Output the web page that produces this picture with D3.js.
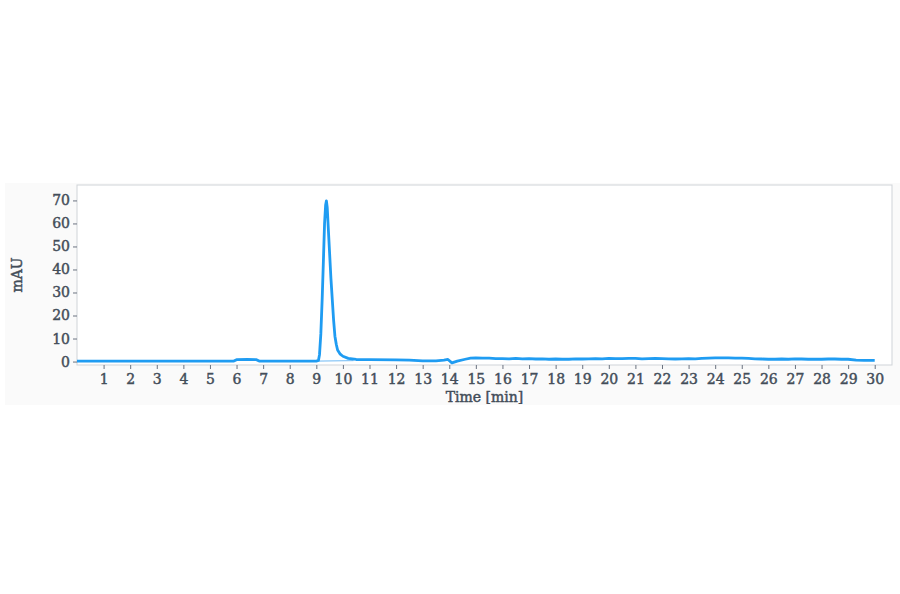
<!DOCTYPE html>
<html>
<head>
<meta charset="utf-8">
<script src="https://cdn.jsdelivr.net/npm/d3@7"></script>
<style>
  body { margin: 0; background: #fff; }
  svg text { font-family: "DejaVu Serif", "Liberation Serif", serif; fill: #434d59; stroke: #434d59; stroke-width: 0.45px; }
</style>
</head>
<body>
<svg id="chart" width="900" height="594"></svg>
<script>
// chromatogram trace, time in min / absorbance in mAU
const times = [0, 1, 2, 3, 4, 5, 5.9, 6.0, 6.4, 6.75, 6.85, 7.5, 8.5, 9.0, 9.08, 9.12, 9.17, 9.22, 9.27, 9.31, 9.35, 9.38, 9.41, 9.45, 9.5, 9.55, 9.6, 9.65, 9.7, 9.75, 9.8, 9.9, 10.0, 10.2, 10.5, 11, 12, 12.5, 13, 13.5, 13.8, 13.95, 14.1, 14.3, 14.6, 14.8,
  15, 15.25, 15.5, 15.75, 16, 16.25, 16.5, 16.75, 17, 17.25, 17.5, 17.75, 18, 18.25, 18.5, 18.75, 19, 19.25, 19.5, 19.75, 20, 20.25, 20.5, 20.75, 21, 21.25, 21.5, 21.75, 22, 22.25, 22.5, 22.75, 23, 23.25, 23.5, 23.75, 24, 24.25, 24.5, 24.75, 25, 25.25, 25.5, 25.75, 26, 26.25, 26.5, 26.75, 27, 27.25, 27.5, 27.75, 28, 28.25, 28.5, 28.75, 29, 29.3, 29.6, 30]
const mau = [0.2, 0.2, 0.2, 0.2, 0.2, 0.2, 0.2, 0.8, 0.9, 0.8, 0.2, 0.2, 0.2, 0.2, 0.5, 3, 12, 27, 45, 60, 68, 69.8, 67, 58, 47, 36, 27, 18, 11, 7.5, 5, 3.2, 2.3, 1.4, 0.9, 0.8, 0.7, 0.6, 0.3, 0.3, 0.6, 0.9, -0.6, 0.2, 1.0, 1.5,
  1.6, 1.5, 1.5, 1.3, 1.3, 1.2, 1.4, 1.2, 1.3, 1.1, 1.2, 1.0, 1.1, 1.0, 1.0, 1.2, 1.1, 1.2, 1.3, 1.2, 1.4, 1.3, 1.3, 1.4, 1.4, 1.2, 1.3, 1.4, 1.3, 1.2, 1.1, 1.2, 1.3, 1.2, 1.4, 1.5, 1.6, 1.6, 1.6, 1.5, 1.5, 1.4, 1.2, 1.1, 1.0, 1.0, 1.1, 1.0, 1.2, 1.1, 1.0, 1.0, 1.0, 1.1, 1.1, 1.0, 1.0, 0.6, 0.5, 0.5]
// integration baseline under the main peak
const baseTimes = [9.05, 10.4]
const baseMau = [0.2, 0.4]

const xTicks = d3.range(1, 31)
const yTicks = [0, 10, 20, 30, 40, 50, 60, 70]

const svg = d3.select("#chart")
const mLeft = 77, mRight = 892, mTop = 185, mBottom = 365

// panel background
svg.append("rect")
    .attr("x", 5).attr("y", 183)
    .attr("width", 895).attr("height", 222)
    .attr("fill", "#fafafa")

let x = d3.scaleLinear().domain([0, 30.65]).range([mLeft, mRight])
let y = d3.scaleLinear().domain([-1.5, 76.7]).range([mBottom, mTop])

svg.append("rect")
    .attr("x", mLeft).attr("y", mTop)
    .attr("width", mRight - mLeft).attr("height", mBottom - mTop)
    .attr("fill", "#fff")
    .attr("stroke", "#cfd3d8")

let xAxis = svg.append("g")
    .attr("transform", `translate(0,${mBottom})`)
    .call(d3.axisBottom(x).tickValues(xTicks).tickSize(4).tickPadding(5))
xAxis.select(".domain").remove()
xAxis.selectAll(".tick line").attr("stroke", "#6b7380")
xAxis.selectAll("text").style("font-size", "14px")

let yAxis = svg.append("g")
    .attr("transform", `translate(${mLeft},0)`)
    .call(d3.axisLeft(y).tickValues(yTicks).tickSize(4).tickPadding(3))
yAxis.select(".domain").remove()
yAxis.selectAll(".tick line").attr("stroke", "#6b7380")
yAxis.selectAll("text").style("font-size", "14px")

svg.append("text")
    .attr("x", (mLeft + mRight) / 2).attr("y", 402)
    .attr("text-anchor", "middle")
    .style("font-size", "14px")
    .text("Time [min]")

svg.append("text")
    .attr("transform", `translate(22,${(mTop + mBottom) / 2}) rotate(-90)`)
    .attr("text-anchor", "middle")
    .style("font-size", "14px")
    .text("mAU")

let line = d3.line()
    .x(i => x(times[i]))
    .y(i => y(mau[i]))

let plot = svg.append("g")

plot.append("path")
    .datum(d3.range(baseTimes.length))
    .attr("d", d3.line().x(i => x(baseTimes[i])).y(i => y(baseMau[i])))
    .attr("fill", "none")
    .attr("stroke", "#6fbaf5")
    .attr("stroke-width", 1)

plot.append("path")
    .datum(d3.range(times.length))
    .attr("d", line)
    .attr("fill", "none")
    .attr("stroke", "#1f9cf2")
    .attr("stroke-width", 2.8)
    .attr("stroke-linejoin", "round")
</script>
</body>
</html>
